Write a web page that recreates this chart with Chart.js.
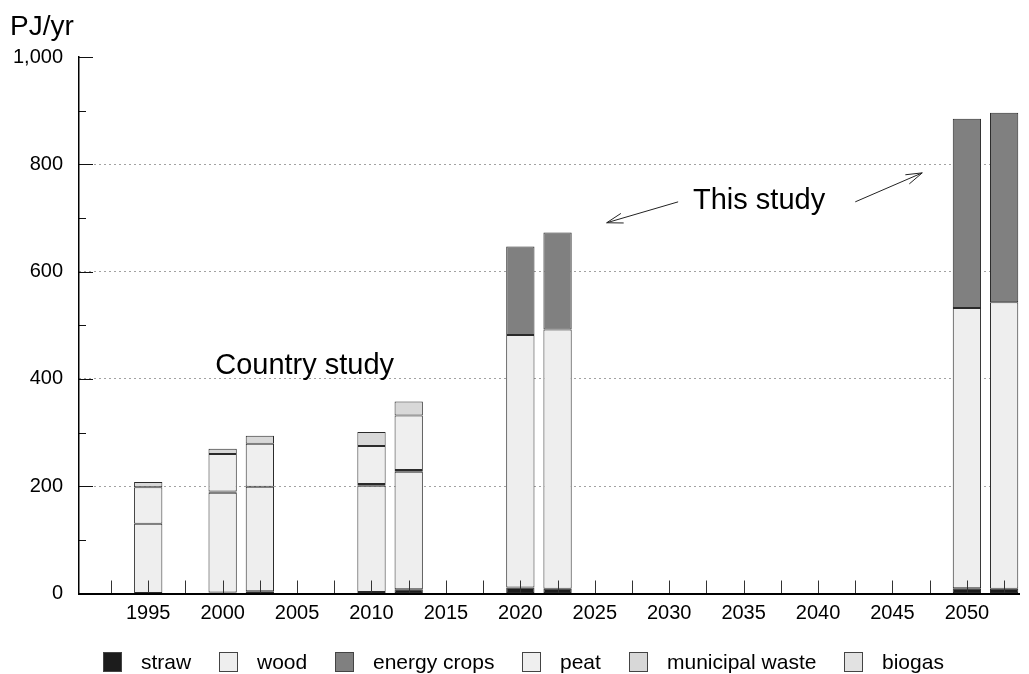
<!DOCTYPE html>
<html>
<head>
<meta charset="utf-8">
<script src="https://cdn.jsdelivr.net/npm/chart.js@4.4.0/dist/chart.umd.min.js"></script>
<style>
  html, body { margin: 0; padding: 0; background: #ffffff; }
  #wrap { width: 1029px; height: 674px; position: relative; }
</style>
</head>
<body>
<div id="wrap"><canvas id="chart" width="1029" height="674"></canvas></div>
<script>
// Bioenergy supply, PJ per year, by source and study year
const years          = [1995, 2000, 2002.5, 2010, 2012.5, 2020, 2022.5, 2050, 2052.5];
const straw          = [0,    2,    4,      3,    8,      11,   9,      10,   9];
const wood           = [130,  186,  195,    198,  219,    471,  483,    522,  534];
const energyCrops    = [0,    2,    0,      3,    3,      165,  181,    353,  353];
const peat           = [68,   70,   80,     71,   102,    0,    0,      0,    0];
const municipalWaste = [10,   10,   15,     26,   26,     0,    0,      0,    0];
const biogas         = [0,    0,    0,      0,    0,      0,    0,      0,    0];

// Axis ticks
const xTicks      = [1992.5, 1995, 1997.5, 2000, 2002.5, 2005, 2007.5, 2010, 2012.5, 2015, 2017.5,
                     2020, 2022.5, 2025, 2027.5, 2030, 2032.5, 2035, 2037.5, 2040, 2042.5, 2045,
                     2047.5, 2050, 2052.5];
const xLabelYears = [1995, 2000, 2005, 2010, 2015, 2020, 2025, 2030, 2035, 2040, 2045, 2050];
const yTicks      = [0, 200, 400, 600, 800, 1000];
const yMinorTicks = [100, 300, 500, 700, 900];

const FONT = '"Liberation Sans", Arial, Helvetica, sans-serif';

// empty segments are left out so they draw no outline
function series(values) {
  return years.map((yr, i) => ({ x: yr, y: values[i] === 0 ? null : values[i] }));
}

const datasets = [
  { label: 'straw',           data: series(straw),          backgroundColor: '#1c1c1c' },
  { label: 'wood',            data: series(wood),           backgroundColor: '#eeeeee' },
  { label: 'energy crops',    data: series(energyCrops),    backgroundColor: '#808080' },
  { label: 'peat',            data: series(peat),           backgroundColor: '#efefef' },
  { label: 'municipal waste', data: series(municipalWaste), backgroundColor: '#d8d8d8' },
  { label: 'biogas',          data: series(biogas),         backgroundColor: '#e2e2e2' }
].map(d => Object.assign(d, {
  stack: 'total',
  borderColor: '#2a2a2a',
  borderWidth: 1,
  borderSkipped: false,
  categoryPercentage: 1,
  barPercentage: 0.76
}));

// Free-standing labels and arrows, placed in data coordinates
const notes = [
  { text: 'Country study', x: 1999.5, y: 409 },
  { text: 'This study',    x: 2031.6, y: 717 }
];
const arrows = [
  { from: [2030.6, 730], to: [2025.8, 691] },
  { from: [2042.5, 730], to: [2047.0, 784] }
];

const overlay = {
  id: 'overlay',
  afterDatasetsDraw(chart) {
    const { ctx, chartArea: area, scales: { x, y } } = chart;
    ctx.save();

    // inward tick marks on the x axis
    ctx.strokeStyle = '#333';
    ctx.lineWidth = 1;
    xTicks.forEach(v => {
      const px = Math.round(x.getPixelForValue(v)) + 0.5;
      ctx.beginPath();
      ctx.moveTo(px, area.bottom);
      ctx.lineTo(px, area.bottom - 13);
      ctx.stroke();
    });

    // inward tick marks on the y axis
    ctx.strokeStyle = '#111';
    yTicks.forEach(v => {
      if (v === 0) return;
      const py = Math.round(y.getPixelForValue(v)) + 0.5;
      ctx.beginPath();
      ctx.moveTo(area.left, py);
      ctx.lineTo(area.left + 14, py);
      ctx.stroke();
    });
    yMinorTicks.forEach(v => {
      const py = Math.round(y.getPixelForValue(v)) + 0.5;
      ctx.beginPath();
      ctx.moveTo(area.left, py);
      ctx.lineTo(area.left + 7, py);
      ctx.stroke();
    });

    // unit label
    ctx.fillStyle = '#000';
    ctx.font = '28px ' + FONT;
    ctx.textAlign = 'left';
    ctx.textBaseline = 'alphabetic';
    ctx.fillText('PJ/yr', 10, 35);

    // notes
    ctx.font = '29px ' + FONT;
    notes.forEach(n => {
      ctx.fillText(n.text, x.getPixelForValue(n.x), y.getPixelForValue(n.y));
    });

    // arrows with open heads
    ctx.strokeStyle = '#222';
    ctx.lineWidth = 1;
    arrows.forEach(a => {
      const x1 = x.getPixelForValue(a.from[0]), y1 = y.getPixelForValue(a.from[1]);
      const x2 = x.getPixelForValue(a.to[0]),   y2 = y.getPixelForValue(a.to[1]);
      const ang = Math.atan2(y1 - y2, x1 - x2);
      const len = 17, spread = 17 * Math.PI / 180;
      ctx.beginPath();
      ctx.moveTo(x1, y1);
      ctx.lineTo(x2, y2);
      ctx.moveTo(x2 + len * Math.cos(ang - spread), y2 + len * Math.sin(ang - spread));
      ctx.lineTo(x2, y2);
      ctx.lineTo(x2 + len * Math.cos(ang + spread), y2 + len * Math.sin(ang + spread));
      ctx.stroke();
    });

    // legend row
    ctx.font = '21px ' + FONT;
    ctx.textBaseline = 'middle';
    const boxW = 19, boxH = 20, gapText = 19, gapItem = 28, rowY = 652;
    const widths = chart.data.datasets.map(d => boxW + gapText + ctx.measureText(d.label).width);
    const total = widths.reduce((s, w) => s + w, 0) + gapItem * (widths.length - 1);
    let cx = Math.round(523.5 - total / 2);
    chart.data.datasets.forEach((d, i) => {
      ctx.fillStyle = d.backgroundColor;
      ctx.fillRect(cx, rowY, boxW, boxH);
      ctx.strokeStyle = '#444';
      ctx.strokeRect(cx + 0.5, rowY + 0.5, boxW - 1, boxH - 1);
      ctx.fillStyle = '#000';
      ctx.fillText(d.label, cx + boxW + gapText, rowY + boxH / 2 + 1);
      cx = Math.round(cx + widths[i] + gapItem);
    });

    ctx.restore();
  }
};

new Chart(document.getElementById('chart'), {
  type: 'bar',
  data: { datasets },
  options: {
    responsive: false,
    animation: false,
    devicePixelRatio: 1,
    layout: { padding: { left: 0, right: 10, top: 57, bottom: 50 } },
    plugins: {
      legend: { display: false },
      tooltip: { enabled: false }
    },
    scales: {
      x: {
        type: 'linear',
        min: 1990.35,
        max: 2053.5,
        offset: false,
        grid: { display: false, drawTicks: false },
        border: { display: true, color: '#000', width: 2, z: 1 },
        afterBuildTicks: s => { s.ticks = xTicks.map(v => ({ value: v })); },
        afterFit: s => { s.height = 30.5; },
        ticks: {
          autoSkip: false,
          maxRotation: 0,
          padding: 8,
          color: '#000',
          font: { size: 20, family: FONT },
          callback: v => xLabelYears.includes(v) ? String(v) : ''
        }
      },
      y: {
        stacked: true,
        min: 0,
        max: 1000,
        afterBuildTicks: s => { s.ticks = yTicks.map(v => ({ value: v })); },
        afterFit: s => { s.width = 79; },
        grid: {
          drawTicks: false,
          lineWidth: 1,
          color: c => (c.tick && c.tick.value > 0 && c.tick.value < 1000) ? '#444' : 'rgba(0,0,0,0)'
        },
        border: { display: true, color: '#000', width: 1.5, dash: [1, 4], z: 1 },
        ticks: {
          padding: 16,
          color: '#000',
          font: { size: 20, family: FONT },
          callback: v => v.toLocaleString('en-US')
        }
      }
    }
  },
  plugins: [overlay]
});
</script>
</body>
</html>
